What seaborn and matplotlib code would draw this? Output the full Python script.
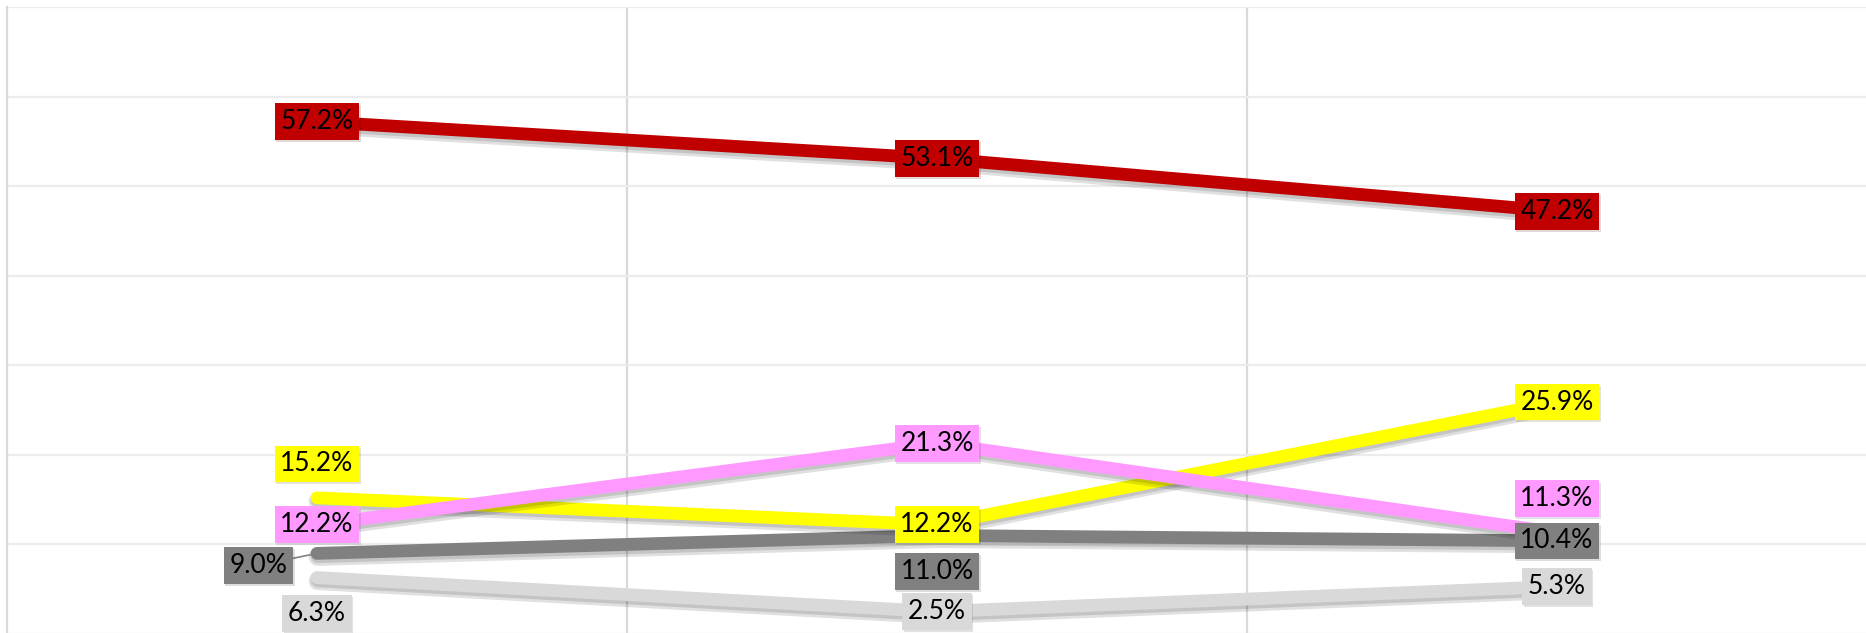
import pandas as pd
import seaborn as sns
import matplotlib.pyplot as plt
import matplotlib.patheffects as pe

# categories (the axis labels are cropped away in the reference)
periods = ["P1", "P2", "P3"]

# series values in percent
red_vals = [57.2, 53.1, 47.2]
yellow_vals = [15.2, 12.2, 25.9]
pink_vals = [12.2, 21.3, 11.3]
dark_vals = [9.0, 11.0, 10.4]
light_vals = [6.3, 2.5, 5.3]

series_names = ["light", "dark", "yellow", "pink", "red"]
series_vals = [light_vals, dark_vals, yellow_vals, pink_vals, red_vals]
colors = {"red": "#C00000", "yellow": "#FFFF00", "pink": "#FF99FF",
          "dark": "#808080", "light": "#D9D9D9"}

# label offsets in points (0, 0 = centred on the point)
label_offsets = {
    "red": [(0, 0), (0, 0), (0, 0)],
    "yellow": [(0, 24.5), (0, 0), (0, 0)],
    "pink": [(0, 0), (0, 0), (0, 24.5)],
    "dark": [(-42, -8.6), (0, -26), (0, 0)],
    "light": [(0, -26), (0, 0), (0, 0)],
}

rows = []
for name, vals in zip(series_names, series_vals):
    for i, v in enumerate(vals):
        rows.append({"x": i, "period": periods[i], "value": v, "series": name})
df = pd.DataFrame(rows)

sns.set_style("white")
plt.rcParams['font.family'] = ['Lato', 'DejaVu Sans']

fig = plt.figure(figsize=(18.66, 6.33), dpi=100)
ax = fig.add_axes([7 / 1866, -1 / 633, 1860 / 1866, 627 / 633])

sns.lineplot(data=df, x="x", y="value", hue="series", hue_order=series_names,
             palette=colors, linewidth=9.2, legend=False, ax=ax)

shadow = [pe.SimpleLineShadow(offset=(0.5, -2.5), shadow_color="#000000", alpha=0.12, linewidth=13),
          pe.SimpleLineShadow(offset=(0.5, -2), shadow_color="#000000", alpha=0.12, linewidth=10),
          pe.Normal()]
for line in ax.get_lines():
    line.set_path_effects(shadow)
    line.set_solid_capstyle("round")

ax.set_xlim(-0.5, 2.5)
ax.set_ylim(0, 70)
ax.set_yticks(range(0, 71, 10))
ax.set_xticks([0.5, 1.5])
ax.grid(axis="y", color="#ececec", linewidth=1.6)
ax.grid(axis="x", color="#d9d9d9", linewidth=1.6)
ax.set_axisbelow(True)
ax.tick_params(left=False, bottom=False, labelleft=False, labelbottom=False)
ax.set_xlabel("")
ax.set_ylabel("")
for side in ["top", "right", "bottom"]:
    ax.spines[side].set_visible(False)
ax.spines["left"].set_color("#d9d9d9")
ax.spines["left"].set_linewidth(1.6)

label_order = ["red", "yellow", "pink", "dark", "light"]
for name in label_order:
    vals = series_vals[series_names.index(name)]
    for i, v in enumerate(vals):
        dx, dy = label_offsets[name][i]
        arrow = None
        if dx != 0 and dy != 0:
            arrow = dict(arrowstyle="-", color="#808080", lw=1.2, shrinkA=0, shrinkB=4)
        t = ax.annotate(f"{v:.1f}%", xy=(i, v), xytext=(dx, dy), textcoords="offset points",
                        ha="center", va="center", fontsize=19, color="black",
                        bbox=dict(boxstyle="square,pad=0.22", fc=colors[name], ec="none"),
                        arrowprops=arrow, zorder=5)
        t.get_bbox_patch().set_path_effects([pe.withSimplePatchShadow(offset=(1, -1.5), alpha=0.15)])

fig.savefig("out.png", dpi=100)
